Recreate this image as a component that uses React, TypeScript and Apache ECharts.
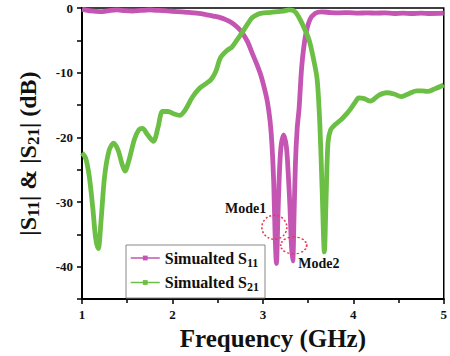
import React, { useEffect, useRef } from "react";
import * as echarts from "echarts";

const freqS11: number[] = [1.0, 1.1, 1.2, 1.3, 1.39, 1.47, 1.56, 1.65, 1.75, 1.85, 1.94, 2.05, 2.16, 2.27, 2.38, 2.45, 2.52, 2.59, 2.66, 2.72, 2.77, 2.83, 2.88, 2.93, 2.98, 3.02, 3.05, 3.08, 3.1, 3.12, 3.135, 3.15, 3.165, 3.18, 3.2, 3.23, 3.26, 3.28, 3.3, 3.315, 3.33, 3.345, 3.36, 3.38, 3.4, 3.43, 3.47, 3.52, 3.58, 3.65, 3.75, 3.85, 3.95, 4.05, 4.15, 4.25, 4.35, 4.45, 4.55, 4.65, 4.75, 4.85, 5.0];
const dbS11: number[] = [-0.2, -0.45, -0.56, -0.4, -0.3, -0.4, -0.46, -0.38, -0.3, -0.38, -0.46, -0.55, -0.66, -0.8, -1.05, -1.25, -1.45, -1.8, -2.3, -3.0, -3.8, -5.2, -6.9, -8.6, -10.5, -12.6, -14.5, -17.5, -21, -27, -35, -39.5, -33, -26.5, -21.5, -19.6, -21.5, -25.5, -31, -36.5, -39.1, -32, -24, -18.5, -15.6, -9, -4.4, -1.8, -0.8, -0.6, -0.7, -0.75, -0.7, -0.8, -0.75, -0.8, -0.75, -0.85, -0.8, -0.85, -0.8, -0.85, -0.8];

const freqS21: number[] = [1.0, 1.04, 1.08, 1.12, 1.15, 1.18, 1.21, 1.25, 1.3, 1.35, 1.4, 1.44, 1.475, 1.52, 1.58, 1.63, 1.67, 1.72, 1.79, 1.84, 1.89, 1.95, 2.02, 2.08, 2.14, 2.22, 2.3, 2.38, 2.43, 2.48, 2.53, 2.6, 2.66, 2.72, 2.77, 2.83, 2.88, 2.94, 2.99, 3.07, 3.14, 3.22, 3.29, 3.33, 3.37, 3.43, 3.51, 3.56, 3.6, 3.63, 3.655, 3.68, 3.7, 3.72, 3.75, 3.8, 3.87, 3.93, 3.97, 4.02, 4.06, 4.12, 4.19, 4.28, 4.37, 4.45, 4.53, 4.62, 4.7, 4.76, 4.82, 4.9, 5.0];
const dbS21: number[] = [-22.4, -23.2, -26, -31, -35.5, -37.2, -33, -26, -22, -20.9, -22, -24, -25.2, -23.5, -20.3, -18.8, -18.6, -19.5, -20.6, -18.5, -16.0, -16.0, -16.4, -16.6, -15.8, -13.8, -12.4, -11.6, -11.0, -9.8, -7.7, -6.6, -6.0, -4.8, -3.8, -2.5, -1.5, -1.0, -0.8, -0.7, -0.6, -0.5, -0.3, -0.35, -0.8, -2.3, -4.9, -7.9, -11, -18, -28, -37.7, -29, -20.8, -18.8, -18.0, -17.2, -16.3, -15.6, -14.6, -13.9, -14.0, -14.4, -13.5, -13.1, -13.3, -13.7, -13.2, -12.8, -12.8, -12.9, -12.5, -11.9];

const xTicks = { min: 1, max: 5, interval: 1 };
const yTicks = { min: -45, max: 0, interval: 5 };

const S11 = "S11";
const S21 = "S21";

const serif = "'Liberation Serif', 'Times New Roman', serif";

export default function App() {
  const ref = useRef<HTMLDivElement>(null);
  useEffect(() => {
    if (!ref.current) return;
    const chart = echarts.init(ref.current, undefined, { renderer: "svg" });
    const s11Data = freqS11.map((f, i) => [f, dbS11[i]]);
    const s21Data = freqS21.map((f, i) => [f, dbS21[i]]);
    const circleStyle = {
      color: "rgba(0,0,0,0)",
      borderColor: "#e8384f",
      borderWidth: 1.5,
      borderType: [2, 2],
    };
    const labelStyle = {
      show: true,
      position: "inside",
      color: "#111",
      fontFamily: serif,
      fontWeight: "bold",
      fontSize: 14,
    };
    chart.setOption({
      animation: false,
      grid: {
        left: 82,
        right: 4,
        top: 8,
        bottom: 53,
        show: true,
        borderColor: "#000",
        borderWidth: 1.5,
        backgroundColor: "transparent",
      },
      legend: {
        orient: "vertical",
        left: 126,
        top: 245,
        padding: [5, 6, 5, 4],
        itemGap: 6,
        itemWidth: 29,
        itemHeight: 6,
        borderColor: "#888",
        borderWidth: 1,
        borderRadius: 0,
        backgroundColor: "#fff",
        lineStyle: { width: 1.5 },
        data: [S11, S21],
        formatter: (name: string) =>
          name === S11 ? "{t|Simualted S}{s|11}" : "{t|Simualted S}{s|21}",
        textStyle: {
          color: "#111",
          fontFamily: serif,
          fontWeight: "bold",
          fontSize: 16,
          rich: {
            t: { fontFamily: serif, fontWeight: "bold", fontSize: 16, color: "#111" },
            s: {
              fontFamily: serif,
              fontWeight: "bold",
              fontSize: 12,
              color: "#111",
              padding: [9, 0, 0, 0],
            },
          },
        },
      },
      xAxis: {
        type: "value",
        min: xTicks.min,
        max: xTicks.max,
        interval: xTicks.interval,
        name: "Frequency (GHz)",
        nameLocation: "middle",
        nameGap: 25,
        nameTextStyle: {
          fontFamily: serif,
          fontWeight: "bold",
          fontSize: 25,
          color: "#111",
          padding: [0, 0, 0, 20],
        },
        axisLine: { onZero: false, lineStyle: { color: "#000", width: 2 } },
        axisTick: { length: 5, lineStyle: { color: "#000", width: 1.5 } },
        minorTick: { show: true, splitNumber: 2, length: 4, lineStyle: { color: "#000", width: 1.5 } },
        splitLine: { show: false },
        axisLabel: {
          margin: 9,
          fontFamily: serif,
          fontWeight: "bold",
          fontSize: 13,
          color: "#111",
        },
      },
      yAxis: {
        type: "value",
        min: yTicks.min,
        max: yTicks.max,
        interval: yTicks.interval,
        name: "{a||S}{s|11}{a|| & |S}{s|21}{a|| (dB)}",
        nameLocation: "middle",
        nameGap: 40,
        nameRotate: 90,
        nameTextStyle: {
          fontFamily: serif,
          fontWeight: "bold",
          fontSize: 24,
          color: "#111",
          rich: {
            a: { fontFamily: serif, fontWeight: "bold", fontSize: 24, color: "#111" },
            s: {
              fontFamily: serif,
              fontWeight: "bold",
              fontSize: 17,
              color: "#111",
              padding: [11, 0, 0, 0],
            },
          },
        },
        axisLine: { lineStyle: { color: "#000", width: 2 } },
        axisTick: { length: 5, lineStyle: { color: "#000", width: 1.5 } },
        splitLine: { show: false },
        axisLabel: {
          margin: 9,
          fontFamily: serif,
          fontWeight: "bold",
          fontSize: 13,
          color: "#111",
          formatter: (v: number) => (v % 10 === 0 ? String(v) : ""),
        },
      },
      series: [
        {
          name: S11,
          type: "line",
          data: s11Data,
          smooth: 0.3,
          symbol: "rect",
          symbolSize: 4,
          showSymbol: false,
          color: "#c555b2",
          lineStyle: { width: 4.8, color: "#c555b2" },
          markPoint: {
            silent: true,
            animation: false,
            data: [
              { coord: [3.127, -33.9], symbol: "circle", symbolSize: [25, 24], itemStyle: circleStyle, label: { show: false } },
              { coord: [3.341, -36.7], symbol: "circle", symbolSize: [26, 17], itemStyle: circleStyle, label: { show: false } },
              { coord: [2.81, -31.0], symbol: "rect", symbolSize: 1, itemStyle: { color: "rgba(0,0,0,0)" }, label: { ...labelStyle, formatter: "Mode1" } },
              { coord: [3.62, -39.5], symbol: "rect", symbolSize: 1, itemStyle: { color: "rgba(0,0,0,0)" }, label: { ...labelStyle, formatter: "Mode2" } },
            ],
          },
        },
        {
          name: S21,
          type: "line",
          data: s21Data,
          smooth: 0.3,
          symbol: "rect",
          symbolSize: 4,
          showSymbol: false,
          color: "#6cbf45",
          lineStyle: { width: 4.8, color: "#6cbf45" },
        },
      ],
    });
    return () => chart.dispose();
  }, []);
  return (
    <div
      ref={ref}
      style={{ position: "absolute", left: 0, top: 0, width: 450, height: 356 }}
    />
  );
}
